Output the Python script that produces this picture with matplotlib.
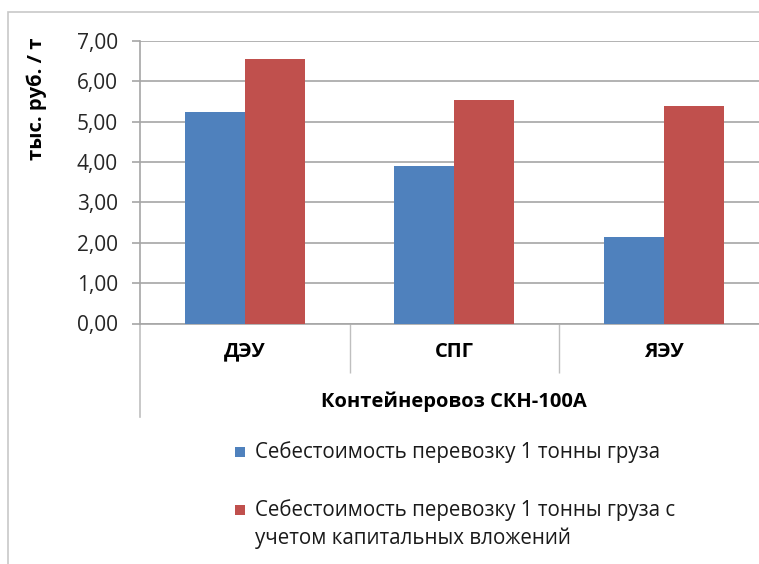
import matplotlib
matplotlib.use("Agg")
import matplotlib.pyplot as plt
from matplotlib.patches import Rectangle
from matplotlib.ticker import FuncFormatter
import numpy as np

# data
categories = ["ДЭУ", "СПГ", "ЯЭУ"]
cost_plain = [5.23, 3.90, 2.14]
cost_capital = [6.56, 5.55, 5.40]
series_names = [
    "Себестоимость перевозку 1 тонны груза",
    "Себестоимость перевозку 1 тонны груза с\nучетом капитальных вложений",
]
series_colors = ["#4F81BD", "#C0504D"]
y_label = "тыс. руб. / т"
x_title = "Контейнеровоз СКН-100А"

W, H = 759, 564
plt.rcParams["font.family"] = ["Open Sans", "DejaVu Sans"]
fig = plt.figure(figsize=(W / 100, H / 100), dpi=100)

# chart area border (cropped on right/bottom like the reference)
fig.patches.append(Rectangle((8 / W, -0.1), 1.2, 1 - 12 / H + 0.1,
                             transform=fig.transFigure, fill=False,
                             edgecolor="#C8C8C8", linewidth=1.2))

left, axis_y, top_y = 140, 323.5, 41
cat_px = 209.5
ax = fig.add_axes([left / W, 1 - axis_y / H, (W - left) / W, (axis_y - top_y) / H])

x = np.arange(len(categories)) + 0.5
bw = 1 / 3.5
ax.bar(x - bw / 2, cost_plain, bw, color=series_colors[0], zorder=3)
ax.bar(x + bw / 2, cost_capital, bw, color=series_colors[1], zorder=3)

ax.set_xlim(0, (W - left) / cat_px)
ax.set_ylim(0, 7)
ax.set_yticks(range(8))
ax.yaxis.set_major_formatter(FuncFormatter(lambda v, p: f"{v:.2f}".replace(".", ",")))
ax.grid(axis="y", color="#A6A6A6", linewidth=1.2, zorder=1)

for s in ["top", "right"]:
    ax.spines[s].set_visible(False)
ax.spines["left"].set_color("#A6A6A6")
ax.spines["left"].set_linewidth(1.2)
ax.spines["bottom"].set_color("#A6A6A6")
ax.spines["bottom"].set_linewidth(1.2)

ax.tick_params(axis="y", length=6, width=1.2, color="#A6A6A6", pad=10,
               labelsize=15, labelcolor="#262626")
# category separators as major ticks, labels on minor ticks
ax.set_xticks([1, 2])
ax.set_xticklabels([])
ax.tick_params(axis="x", which="major", length=35, width=1, color="#BFBFBF")
ax.set_xticks(x, minor=True)
ax.set_xticklabels(categories, minor=True, fontweight="bold", fontsize=14.5)
ax.tick_params(axis="x", which="minor", length=0, pad=13)

# left spine continues down past the multi-level category area
ax.plot([0, 0], [0, -93 / (axis_y - top_y)], transform=ax.transAxes,
        color="#BFBFBF", linewidth=1.2, clip_on=False)

fig.text((left + 1.5 * cat_px) / W, 1 - 402 / H, x_title, ha="center", va="center",
         fontsize=14.5, fontweight="bold")
fig.text(37 / W, 1 - 99 / H, y_label, rotation=90, ha="center", va="center",
         fontsize=14.5, fontweight="bold")

# legend below, drawn as squares + text (one text per line, 28 px apart)
legend_rows = [452, 510]
for name, color, yy in zip(series_names, series_colors, legend_rows):
    fig.patches.append(Rectangle((235 / W, 1 - (yy + 5) / H), 10 / W, 10 / H,
                                 transform=fig.transFigure, facecolor=color,
                                 edgecolor="none"))
    for i, line in enumerate(name.split("\n")):
        fig.text(255 / W, 1 - (yy + 6 + 28 * i) / H, line, ha="left", va="baseline",
                 fontsize=14.8, color="#1A1A1A")

fig.savefig("out.png", dpi=100)
